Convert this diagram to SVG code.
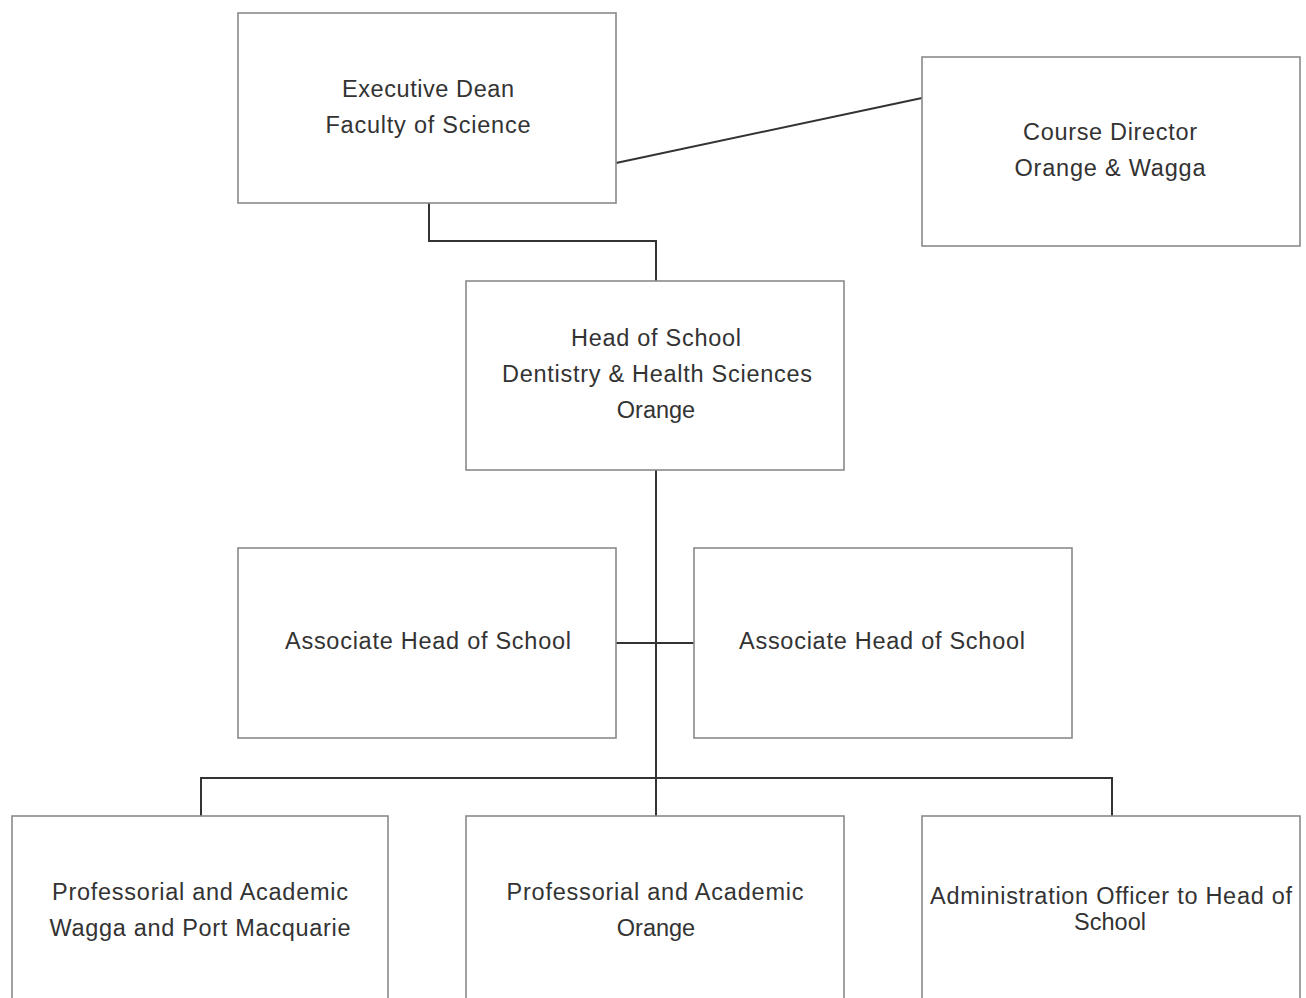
<svg xmlns="http://www.w3.org/2000/svg" width="1306" height="998" viewBox="0 0 1306 998">
<style>
.box{fill:#fff;stroke:#8a8a8a;stroke-width:1.6}
.t{font-family:"Liberation Sans",Arial,sans-serif;font-size:23.5px;fill:#333;text-anchor:middle}
.c{fill:none;stroke:#333;stroke-width:2}
</style>
<rect width="1306" height="998" fill="#fff"/>
<g id="connectors">
<line class="c" x1="616" y1="163" x2="922" y2="98"/>
<polyline class="c" points="429,203 429,241 656,241 656,281"/>
<line class="c" x1="656" y1="470" x2="656" y2="816"/>
<line class="c" x1="616" y1="643" x2="694" y2="643"/>
<polyline class="c" points="201,816 201,778 1112,778 1112,816"/>
</g>
<g id="exec-dean">
<rect class="box" x="238" y="13" width="378" height="190"/>
<text class="t" x="428" y="97" textLength="172" lengthAdjust="spacing">Executive Dean</text>
<text class="t" x="428" y="133" textLength="205" lengthAdjust="spacing">Faculty of Science</text>
</g>
<g id="course-director">
<rect class="box" x="922" y="57" width="378" height="189"/>
<text class="t" x="1110" y="140" textLength="174" lengthAdjust="spacing">Course Director</text>
<text class="t" x="1110" y="176" textLength="191" lengthAdjust="spacing">Orange &amp; Wagga</text>
</g>
<g id="head-of-school">
<rect class="box" x="466" y="281" width="378" height="189"/>
<text class="t" x="656" y="346" textLength="170" lengthAdjust="spacing">Head of School</text>
<text class="t" x="657" y="382" textLength="310" lengthAdjust="spacing">Dentistry &amp; Health Sciences</text>
<text class="t" x="656" y="418">Orange</text>
</g>
<g id="assoc-left">
<rect class="box" x="238" y="548" width="378" height="190"/>
<text class="t" x="428" y="649" textLength="286" lengthAdjust="spacing">Associate Head of School</text>
</g>
<g id="assoc-right">
<rect class="box" x="694" y="548" width="378" height="190"/>
<text class="t" x="882" y="649" textLength="286" lengthAdjust="spacing">Associate Head of School</text>
</g>
<g id="prof-wagga">
<rect class="box" x="12" y="816" width="376" height="200"/>
<text class="t" x="200" y="900" textLength="296" lengthAdjust="spacing">Professorial and Academic</text>
<text class="t" x="200" y="936" textLength="301" lengthAdjust="spacing">Wagga and Port Macquarie</text>
</g>
<g id="prof-orange">
<rect class="box" x="466" y="816" width="378" height="200"/>
<text class="t" x="655" y="900" textLength="297" lengthAdjust="spacing">Professorial and Academic</text>
<text class="t" x="656" y="936">Orange</text>
</g>
<g id="admin-officer">
<rect class="box" x="922" y="816" width="378" height="200"/>
<text class="t" x="1111" y="904" textLength="362" lengthAdjust="spacing">Administration Officer to Head of</text>
<text class="t" x="1110" y="930">School</text>
</g>
</svg>
